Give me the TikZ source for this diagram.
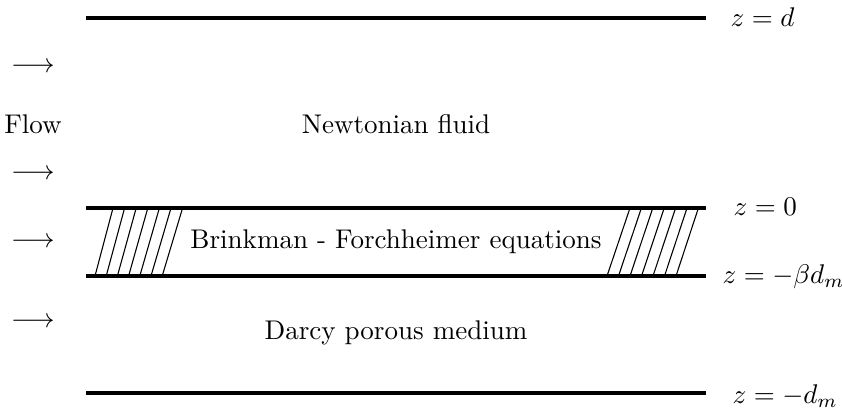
\documentclass[tikz,border=0pt]{standalone}
\usepackage{amsmath}
\begin{document}
\begin{tikzpicture}[x=0.37pt,y=-0.37pt,
  wall/.style={line width=1.2pt},
  hatch/.style={line width=0.4pt},
  lbl/.style={inner sep=0pt,anchor=center},
  zlbl/.style={inner sep=0pt,anchor=west}]
\useasboundingbox (0,0) rectangle (842,409);

% layer boundaries
\coordinate (topL) at (86,18);   \coordinate (topR) at (706,18);
\coordinate (upL)  at (86,208);  \coordinate (upR)  at (706,208);
\coordinate (loL)  at (86,276);  \coordinate (loR)  at (706,276);
\coordinate (botL) at (86,393);  \coordinate (botR) at (706,393);
\draw[wall] (topL) -- (topR);
\draw[wall] (upL) -- (upR);
\draw[wall] (loL) -- (loR);
\draw[wall] (botL) -- (botR);

% hatching in the transition layer
\foreach \i in {0,...,6} {
  \draw[hatch] ({95+11.2*\i},276) -- ({113+11.6*\i},208);
  \draw[hatch] ({607+11.5*\i},276) -- ({630+11.4*\i},208);
}

% level labels
\node[zlbl] (zd)  at (730,17)  {$z=d$};
\node[zlbl] (z0)  at (733,207) {$z=0$};
\node[zlbl] (zb)  at (722,277) {$z=-\beta d_m$};
\node[zlbl] (zdm) at (732,396) {$z=-d_m$};

% region labels
\node[lbl] (newt) at (396,124) {Newtonian fluid};
\node[lbl] (brink) at (396,242) {Brinkman - Forchheimer equations};
\node[lbl] (darcy) at (396,333) {Darcy porous medium};

% flow direction
\node[lbl] (a1) at (33,68)  {$\longrightarrow$};
\node[lbl] (flow) at (33,124) {Flow};
\node[lbl] (a2) at (33,175) {$\longrightarrow$};
\node[lbl] (a3) at (33,243) {$\longrightarrow$};
\node[lbl] (a4) at (33,323) {$\longrightarrow$};
\end{tikzpicture}
\end{document}
